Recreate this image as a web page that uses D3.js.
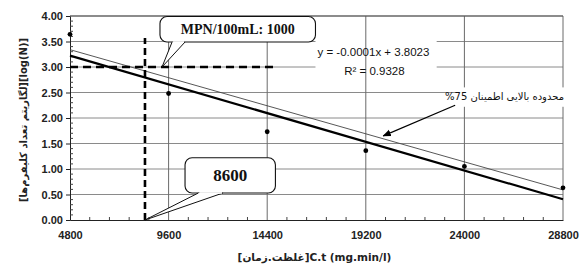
<!DOCTYPE html>
<html>
<head>
<meta charset="utf-8">
<script src="https://cdn.jsdelivr.net/npm/d3@7"></script>
<style>
  html, body { margin: 0; padding: 0; background: #fff; }
  svg { display: block; }
  .tick-label { font-family: "Liberation Sans", Arial, sans-serif; font-size: 11px; font-weight: bold; fill: #222; }
</style>
</head>
<body>
<div id="chart"></div>
<script>
// chart values
const xTicks = [4800, 9600, 14400, 19200, 24000, 28800];
const yTicks = [0, 0.5, 1, 1.5, 2, 2.5, 3, 3.5, 4];
const ctValues = [4800, 9600, 14400, 19200, 24000, 28800];
const logN = [3.64, 2.48, 1.73, 1.36, 1.05, 0.63];
const upperBand = [[4800, 3.34], [28800, 0.59]];
const mpnLevel = 3.0;
const ctLimit = 8450;
const equationText = ['y = -0.0001x + 3.8023', 'R\u00b2 = 0.9328'];
// written in visual order for a left-to-right line: "%75" ends up on the left
const bandLabel = '%75 محدوده بالایی اطمینان';
const xTitle = '[غلظت.زمان]C.t (mg.min/l)';
const yTitle = '[لگاریتم تعداد کلیفرم‌ها][log(N)]';

const width = 585, height = 268;
const margin = {top: 16, right: 22, bottom: 48, left: 70};

const svg = d3.select('#chart').append('svg')
  .attr('width', width)
  .attr('height', height);
svg.append('rect').attr('width', width).attr('height', height).attr('fill', '#fff');

const x = d3.scaleLinear().domain([4800, 28800]).range([margin.left, width - margin.right]);
const y = d3.scaleLinear().domain([0, 4]).range([height - margin.bottom, margin.top]);

// horizontal grid
svg.append('g').selectAll('line').data(yTicks.filter(d => d > 0)).enter().append('line')
  .attr('x1', x(4800)).attr('x2', x(28800))
  .attr('y1', d => y(d)).attr('y2', d => y(d))
  .attr('stroke', '#8a8a8a').attr('stroke-width', 1);

// white area behind the equation
svg.append('rect')
  .attr('x', x(16750)).attr('y', y(3.56))
  .attr('width', x(22650) - x(16750)).attr('height', y(2.88) - y(3.56))
  .attr('fill', '#fff');

// vertical grid
svg.append('g').selectAll('line').data(xTicks.filter(d => d > 4800)).enter().append('line')
  .attr('x1', d => x(d)).attr('x2', d => x(d))
  .attr('y1', y(0)).attr('y2', y(4))
  .attr('stroke', '#6a6a6a').attr('stroke-width', 1);

// axes
const yAxis = d3.axisLeft(y).tickValues(yTicks).tickFormat(d3.format('.2f')).tickSize(4);
const gy = svg.append('g').attr('transform', `translate(${x(4800)},0)`).call(yAxis);
gy.select('.domain').attr('stroke', '#222');
gy.selectAll('.tick line').attr('stroke', '#222');
gy.selectAll('.tick text').attr('class', 'tick-label').attr('x', -7);
// minor y ticks (inside)
svg.append('g').selectAll('line').data(d3.range(0, 40).map(i => i / 10).filter(v => Math.round(v * 10) % 5 !== 0)).enter().append('line')
  .attr('x1', x(4800)).attr('x2', x(4800) + 3)
  .attr('y1', d => y(d)).attr('y2', d => y(d))
  .attr('stroke', '#444');

const xAxis = d3.axisBottom(x).tickValues(xTicks).tickFormat(d3.format('d')).tickSize(0);
const gx = svg.append('g').attr('transform', `translate(0,${y(0)})`).call(xAxis);
gx.select('.domain').attr('stroke', '#222');
gx.selectAll('.tick text').attr('class', 'tick-label').attr('dy', '1.45em');
// minor x ticks (inside)
svg.append('g').selectAll('line').data(d3.range(4800, 28800, 960).filter(v => (v - 4800) % 4800 !== 0)).enter().append('line')
  .attr('x1', d => x(d)).attr('x2', d => x(d))
  .attr('y1', y(0)).attr('y2', y(0) - 3)
  .attr('stroke', '#444');

// top border
svg.append('line').attr('x1', x(4800)).attr('x2', x(28800)).attr('y1', y(4)).attr('y2', y(4))
  .attr('stroke', '#555').attr('stroke-width', 1.2);

// regression line from the data
const mx = d3.mean(ctValues), my = d3.mean(logN);
const slope = d3.sum(ctValues, (v, i) => (v - mx) * (logN[i] - my)) / d3.sum(ctValues, v => (v - mx) * (v - mx));
const icpt = my - slope * mx;
const trend = [4800, 28800].map(v => [v, icpt + slope * v]);
const line = d3.line().x(d => x(d[0])).y(d => y(d[1]));

svg.append('path').datum(upperBand).attr('d', line)
  .attr('fill', 'none').attr('stroke', '#444').attr('stroke-width', 0.9);
svg.append('path').datum(trend).attr('d', line)
  .attr('fill', 'none').attr('stroke', '#000').attr('stroke-width', 2.2);

// points
svg.append('g').selectAll('circle').data(ctValues).enter().append('circle')
  .attr('cx', d => x(d)).attr('cy', (d, i) => y(logN[i]))
  .attr('r', 2.4).attr('fill', '#000');

// dashed limit lines
svg.append('line')
  .attr('x1', x(4800)).attr('x2', x(14900))
  .attr('y1', y(mpnLevel)).attr('y2', y(mpnLevel))
  .attr('stroke', '#000').attr('stroke-width', 2.6).attr('stroke-dasharray', '8,5');
svg.append('line')
  .attr('x1', x(ctLimit)).attr('x2', x(ctLimit))
  .attr('y1', y(0)).attr('y2', y(3.57))
  .attr('stroke', '#000').attr('stroke-width', 2.6).attr('stroke-dasharray', '7,4');

// callouts
function callout(box, base, tip, text, size) {
  const g = svg.append('g');
  const bx = x(box[0]), by = y(box[3]), bw = x(box[1]) - x(box[0]), bh = y(box[2]) - y(box[3]);
  g.append('rect').attr('x', bx).attr('y', by).attr('width', bw).attr('height', bh)
    .attr('rx', 7).attr('fill', '#fff').attr('stroke', '#111').attr('stroke-width', 1.1);
  const by2 = by + bh;
  g.append('path')
    .attr('d', `M${x(base[0])},${by2} L${x(tip[0])},${y(tip[1])} L${x(base[1])},${by2}`)
    .attr('fill', '#fff').attr('stroke', '#111').attr('stroke-width', 1);
  g.append('line').attr('x1', x(base[0]) + 1).attr('x2', x(base[1]) - 1)
    .attr('y1', by2).attr('y2', by2).attr('stroke', '#fff').attr('stroke-width', 1.6);
  g.append('text').attr('x', bx + bw / 2).attr('y', by + bh / 2)
    .attr('text-anchor', 'middle').attr('dominant-baseline', 'central')
    .attr('font-family', '"Liberation Serif", "Times New Roman", serif')
    .attr('font-weight', 'bold').attr('font-size', size).attr('fill', '#111')
    .text(text);
}
callout([9180, 16750, 3.49, 3.99], [9770, 10400], [9280, mpnLevel], 'MPN/100mL: 1000', 14);
callout([10400, 14800, 0.53, 1.22], [11050, 12250], [ctLimit, 0], '8600', 17);

// equation
svg.append('g').selectAll('text').data(equationText).enter().append('text')
  .attr('x', (d, i) => i === 0 ? x(16850) : x(18150))
  .attr('y', (d, i) => y(3.2) - 1 + i * 19)
  .attr('font-family', '"Liberation Sans", Arial, sans-serif')
  .attr('font-size', 11.5).attr('fill', '#111')
  .text(d => d);

// band label with arrow
svg.append('rect')
  .attr('x', x(23600)).attr('y', y(2.6))
  .attr('width', width - x(23600)).attr('height', y(2.22) - y(2.6))
  .attr('fill', '#fff');
svg.append('text')
  .attr('x', x(28850)).attr('y', y(2.42))
  .attr('direction', 'ltr').attr('text-anchor', 'end')
  .attr('dominant-baseline', 'central')
  .attr('font-family', '"DejaVu Sans", sans-serif').attr('font-size', 10).attr('fill', '#111')
  .text(bandLabel);
svg.append('defs').append('marker')
  .attr('id', 'arr').attr('viewBox', '0 0 10 10').attr('refX', 9).attr('refY', 5)
  .attr('markerWidth', 7).attr('markerHeight', 7).attr('orient', 'auto')
  .append('path').attr('d', 'M0,1 L10,5 L0,9 z').attr('fill', '#000');
svg.append('line')
  .attr('x1', x(23550)).attr('y1', y(2.25))
  .attr('x2', x(20050)).attr('y2', y(1.65))
  .attr('stroke', '#000').attr('stroke-width', 1.2).attr('marker-end', 'url(#arr)');

// axis titles
svg.append('text')
  .attr('x', x(16700)).attr('y', 261)
  .attr('text-anchor', 'middle').attr('direction', 'ltr')
  .attr('font-family', '"DejaVu Sans", sans-serif').attr('font-size', 10.5).attr('font-weight', 'bold').attr('fill', '#222')
  .text(xTitle);
svg.append('text')
  .attr('transform', `translate(23,${(y(0) + y(4)) / 2 + 2}) rotate(-90)`)
  .attr('text-anchor', 'middle').attr('dominant-baseline', 'central')
  .attr('font-family', '"DejaVu Sans", sans-serif').attr('font-size', 10).attr('font-weight', 'bold').attr('fill', '#222')
  .text(yTitle);
</script>
</body>
</html>
